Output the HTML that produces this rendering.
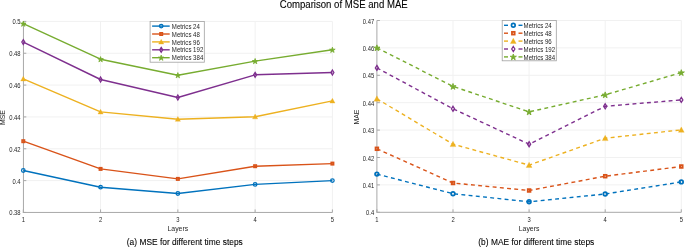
<!DOCTYPE html>
<html><head><meta charset="utf-8"><title>Comparison of MSE and MAE</title>
<style>html,body{margin:0;padding:0;background:#fff;width:685px;height:247px;overflow:hidden}svg{display:block;will-change:transform}</style>
</head><body>
<svg width="685" height="247" viewBox="0 0 685 247" font-family='"Liberation Sans", sans-serif'>
<rect width="685" height="247" fill="#fff"/>
<text transform="translate(343.70,7.75) scale(1,1.13)" font-size="9.6" text-anchor="middle" fill="#000" stroke="#000" stroke-width="0.08">Comparison of MSE and MAE</text>
<line x1="23.30" y1="180.61" x2="332.40" y2="180.61" stroke="#f1f1f1" stroke-width="1"/>
<line x1="23.30" y1="148.77" x2="332.40" y2="148.77" stroke="#f1f1f1" stroke-width="1"/>
<line x1="23.30" y1="116.92" x2="332.40" y2="116.92" stroke="#f1f1f1" stroke-width="1"/>
<line x1="23.30" y1="85.08" x2="332.40" y2="85.08" stroke="#f1f1f1" stroke-width="1"/>
<line x1="23.30" y1="53.24" x2="332.40" y2="53.24" stroke="#f1f1f1" stroke-width="1"/>
<line x1="23.30" y1="21.40" x2="332.40" y2="21.40" stroke="#f1f1f1" stroke-width="1"/>
<line x1="100.57" y1="21.40" x2="100.57" y2="212.45" stroke="#f1f1f1" stroke-width="1"/>
<line x1="177.85" y1="21.40" x2="177.85" y2="212.45" stroke="#f1f1f1" stroke-width="1"/>
<line x1="255.12" y1="21.40" x2="255.12" y2="212.45" stroke="#f1f1f1" stroke-width="1"/>
<line x1="332.40" y1="21.40" x2="332.40" y2="212.45" stroke="#f1f1f1" stroke-width="1"/>
<line x1="23.45" y1="21.40" x2="23.45" y2="212.45" stroke="#a8a8a8" stroke-width="1"/>
<line x1="22.80" y1="212.45" x2="332.40" y2="212.45" stroke="#a8a8a8" stroke-width="1"/>
<line x1="23.30" y1="212.45" x2="26.30" y2="212.45" stroke="#a8a8a8" stroke-width="1"/>
<line x1="23.30" y1="180.61" x2="26.30" y2="180.61" stroke="#a8a8a8" stroke-width="1"/>
<line x1="23.30" y1="148.77" x2="26.30" y2="148.77" stroke="#a8a8a8" stroke-width="1"/>
<line x1="23.30" y1="116.92" x2="26.30" y2="116.92" stroke="#a8a8a8" stroke-width="1"/>
<line x1="23.30" y1="85.08" x2="26.30" y2="85.08" stroke="#a8a8a8" stroke-width="1"/>
<line x1="23.30" y1="53.24" x2="26.30" y2="53.24" stroke="#a8a8a8" stroke-width="1"/>
<line x1="23.30" y1="21.40" x2="26.30" y2="21.40" stroke="#a8a8a8" stroke-width="1"/>
<line x1="23.30" y1="212.45" x2="23.30" y2="209.45" stroke="#a8a8a8" stroke-width="1"/>
<line x1="100.57" y1="212.45" x2="100.57" y2="209.45" stroke="#a8a8a8" stroke-width="1"/>
<line x1="177.85" y1="212.45" x2="177.85" y2="209.45" stroke="#a8a8a8" stroke-width="1"/>
<line x1="255.12" y1="212.45" x2="255.12" y2="209.45" stroke="#a8a8a8" stroke-width="1"/>
<line x1="332.40" y1="212.45" x2="332.40" y2="209.45" stroke="#a8a8a8" stroke-width="1"/>
<text transform="translate(20.60,215.46) scale(1,1.15)" font-size="5.85" text-anchor="end" fill="#262626">0.38</text>
<text transform="translate(20.60,183.62) scale(1,1.15)" font-size="5.85" text-anchor="end" fill="#262626">0.4</text>
<text transform="translate(20.60,151.78) scale(1,1.15)" font-size="5.85" text-anchor="end" fill="#262626">0.42</text>
<text transform="translate(20.60,119.93) scale(1,1.15)" font-size="5.85" text-anchor="end" fill="#262626">0.44</text>
<text transform="translate(20.60,88.09) scale(1,1.15)" font-size="5.85" text-anchor="end" fill="#262626">0.46</text>
<text transform="translate(20.60,56.25) scale(1,1.15)" font-size="5.85" text-anchor="end" fill="#262626">0.48</text>
<text transform="translate(20.60,24.41) scale(1,1.15)" font-size="5.85" text-anchor="end" fill="#262626">0.5</text>
<text transform="translate(23.30,221.80) scale(1,1.15)" font-size="5.85" text-anchor="middle" fill="#262626">1</text>
<text transform="translate(100.57,221.80) scale(1,1.15)" font-size="5.85" text-anchor="middle" fill="#262626">2</text>
<text transform="translate(177.85,221.80) scale(1,1.15)" font-size="5.85" text-anchor="middle" fill="#262626">3</text>
<text transform="translate(255.12,221.80) scale(1,1.15)" font-size="5.85" text-anchor="middle" fill="#262626">4</text>
<text transform="translate(332.40,221.80) scale(1,1.15)" font-size="5.85" text-anchor="middle" fill="#262626">5</text>
<text transform="translate(177.85,231.00) scale(1,1.12)" font-size="6.9" text-anchor="middle" fill="#262626">Layers</text>
<text transform="translate(5.00,117.52) rotate(-90) scale(1,1.12)" font-size="6.9" text-anchor="middle" fill="#262626">MSE</text>
<polyline points="23.30,170.50 100.57,187.20 177.85,193.50 255.12,184.40 332.40,180.60" fill="none" stroke="#0072BD" stroke-width="1.4" stroke-linejoin="round"/>
<circle cx="23.30" cy="170.50" r="1.79" fill="none" stroke="#0072BD" stroke-width="1.25"/>
<circle cx="100.57" cy="187.20" r="1.79" fill="none" stroke="#0072BD" stroke-width="1.25"/>
<circle cx="177.85" cy="193.50" r="1.79" fill="none" stroke="#0072BD" stroke-width="1.25"/>
<circle cx="255.12" cy="184.40" r="1.79" fill="none" stroke="#0072BD" stroke-width="1.25"/>
<circle cx="332.40" cy="180.60" r="1.79" fill="none" stroke="#0072BD" stroke-width="1.25"/>
<polyline points="23.30,141.20 100.57,168.90 177.85,178.90 255.12,166.20 332.40,163.60" fill="none" stroke="#D95319" stroke-width="1.4" stroke-linejoin="round"/>
<rect x="22.10" y="140.00" width="2.40" height="2.40" fill="none" stroke="#D95319" stroke-width="1.60"/>
<rect x="99.37" y="167.70" width="2.40" height="2.40" fill="none" stroke="#D95319" stroke-width="1.60"/>
<rect x="176.65" y="177.70" width="2.40" height="2.40" fill="none" stroke="#D95319" stroke-width="1.60"/>
<rect x="253.93" y="165.00" width="2.40" height="2.40" fill="none" stroke="#D95319" stroke-width="1.60"/>
<rect x="331.20" y="162.40" width="2.40" height="2.40" fill="none" stroke="#D95319" stroke-width="1.60"/>
<polyline points="23.30,78.80 100.57,111.90 177.85,119.20 255.12,116.70 332.40,100.90" fill="none" stroke="#EDB120" stroke-width="1.4" stroke-linejoin="round"/>
<polygon points="23.30,76.16 25.90,80.96 20.70,80.96" fill="#EDB120" stroke="#EDB120" stroke-width="0.3" stroke-linejoin="round"/>
<polygon points="100.57,109.26 103.17,114.06 97.97,114.06" fill="#EDB120" stroke="#EDB120" stroke-width="0.3" stroke-linejoin="round"/>
<polygon points="177.85,116.56 180.45,121.36 175.25,121.36" fill="#EDB120" stroke="#EDB120" stroke-width="0.3" stroke-linejoin="round"/>
<polygon points="255.12,114.06 257.73,118.86 252.53,118.86" fill="#EDB120" stroke="#EDB120" stroke-width="0.3" stroke-linejoin="round"/>
<polygon points="332.40,98.26 335.00,103.06 329.80,103.06" fill="#EDB120" stroke="#EDB120" stroke-width="0.3" stroke-linejoin="round"/>
<polyline points="23.30,42.10 100.57,79.50 177.85,97.50 255.12,74.80 332.40,72.50" fill="none" stroke="#7E2F8E" stroke-width="1.4" stroke-linejoin="round"/>
<polygon points="23.30,39.65 24.80,42.10 23.30,44.55 21.80,42.10" fill="none" stroke="#7E2F8E" stroke-width="1.25"/>
<polygon points="100.57,77.05 102.07,79.50 100.57,81.95 99.07,79.50" fill="none" stroke="#7E2F8E" stroke-width="1.25"/>
<polygon points="177.85,95.05 179.35,97.50 177.85,99.95 176.35,97.50" fill="none" stroke="#7E2F8E" stroke-width="1.25"/>
<polygon points="255.12,72.35 256.62,74.80 255.12,77.25 253.62,74.80" fill="none" stroke="#7E2F8E" stroke-width="1.25"/>
<polygon points="332.40,70.05 333.90,72.50 332.40,74.95 330.90,72.50" fill="none" stroke="#7E2F8E" stroke-width="1.25"/>
<polyline points="23.30,23.70 100.57,59.20 177.85,75.20 255.12,61.10 332.40,49.80" fill="none" stroke="#77AC30" stroke-width="1.4" stroke-linejoin="round"/>
<polygon points="23.30,21.10 23.95,23.10 26.06,23.10 24.35,24.34 25.00,26.35 23.30,25.11 21.60,26.35 22.25,24.34 20.54,23.10 22.65,23.10" fill="#77AC30" stroke="#77AC30" stroke-width="0.80"/>
<polygon points="100.57,56.60 101.23,58.60 103.33,58.60 101.63,59.84 102.28,61.85 100.57,60.61 98.87,61.85 99.52,59.84 97.82,58.60 99.92,58.60" fill="#77AC30" stroke="#77AC30" stroke-width="0.80"/>
<polygon points="177.85,72.60 178.50,74.60 180.61,74.60 178.90,75.84 179.55,77.85 177.85,76.61 176.15,77.85 176.80,75.84 175.09,74.60 177.20,74.60" fill="#77AC30" stroke="#77AC30" stroke-width="0.80"/>
<polygon points="255.12,58.50 255.78,60.50 257.88,60.50 256.18,61.74 256.83,63.75 255.12,62.51 253.42,63.75 254.07,61.74 252.37,60.50 254.47,60.50" fill="#77AC30" stroke="#77AC30" stroke-width="0.80"/>
<polygon points="332.40,47.20 333.05,49.20 335.16,49.20 333.45,50.44 334.10,52.45 332.40,51.21 330.70,52.45 331.35,50.44 329.64,49.20 331.75,49.20" fill="#77AC30" stroke="#77AC30" stroke-width="0.80"/>
<rect x="150.10" y="21.50" width="54.20" height="40.70" fill="#fff" stroke="#a0a0a0" stroke-width="0.8"/>
<line x1="152.10" y1="26.10" x2="169.70" y2="26.10" stroke="#0072BD" stroke-width="1.4"/>
<circle cx="161.20" cy="26.10" r="1.79" fill="none" stroke="#0072BD" stroke-width="1.25"/>
<text transform="translate(171.80,28.75) scale(1,1.12)" font-size="6.1" text-anchor="start" fill="#262626">Metrics 24</text>
<line x1="152.10" y1="34.00" x2="169.70" y2="34.00" stroke="#D95319" stroke-width="1.4"/>
<rect x="160.00" y="32.80" width="2.40" height="2.40" fill="none" stroke="#D95319" stroke-width="1.60"/>
<text transform="translate(171.80,36.65) scale(1,1.12)" font-size="6.1" text-anchor="start" fill="#262626">Metrics 48</text>
<line x1="152.10" y1="41.90" x2="169.70" y2="41.90" stroke="#EDB120" stroke-width="1.4"/>
<polygon points="161.20,39.26 163.80,44.06 158.60,44.06" fill="#EDB120" stroke="#EDB120" stroke-width="0.3" stroke-linejoin="round"/>
<text transform="translate(171.80,44.55) scale(1,1.12)" font-size="6.1" text-anchor="start" fill="#262626">Metrics 96</text>
<line x1="152.10" y1="49.80" x2="169.70" y2="49.80" stroke="#7E2F8E" stroke-width="1.4"/>
<polygon points="161.20,47.35 162.70,49.80 161.20,52.25 159.70,49.80" fill="none" stroke="#7E2F8E" stroke-width="1.25"/>
<text transform="translate(171.80,52.45) scale(1,1.12)" font-size="6.1" text-anchor="start" fill="#262626">Metrics 192</text>
<line x1="152.10" y1="57.70" x2="169.70" y2="57.70" stroke="#77AC30" stroke-width="1.4"/>
<polygon points="161.20,55.10 161.85,57.10 163.96,57.10 162.25,58.34 162.90,60.35 161.20,59.11 159.50,60.35 160.15,58.34 158.44,57.10 160.55,57.10" fill="#77AC30" stroke="#77AC30" stroke-width="0.80"/>
<text transform="translate(171.80,60.35) scale(1,1.12)" font-size="6.1" text-anchor="start" fill="#262626">Metrics 384</text>
<text transform="translate(184.80,244.70) scale(1,1.12)" font-size="8.4" text-anchor="middle" fill="#000" stroke="#000" stroke-width="0.08">(a) MSE for different time steps</text>
<line x1="376.90" y1="184.90" x2="681.30" y2="184.90" stroke="#f1f1f1" stroke-width="1"/>
<line x1="376.90" y1="157.50" x2="681.30" y2="157.50" stroke="#f1f1f1" stroke-width="1"/>
<line x1="376.90" y1="130.10" x2="681.30" y2="130.10" stroke="#f1f1f1" stroke-width="1"/>
<line x1="376.90" y1="102.70" x2="681.30" y2="102.70" stroke="#f1f1f1" stroke-width="1"/>
<line x1="376.90" y1="75.30" x2="681.30" y2="75.30" stroke="#f1f1f1" stroke-width="1"/>
<line x1="376.90" y1="47.90" x2="681.30" y2="47.90" stroke="#f1f1f1" stroke-width="1"/>
<line x1="376.90" y1="20.50" x2="681.30" y2="20.50" stroke="#f1f1f1" stroke-width="1"/>
<line x1="453.00" y1="20.50" x2="453.00" y2="212.30" stroke="#f1f1f1" stroke-width="1"/>
<line x1="529.10" y1="20.50" x2="529.10" y2="212.30" stroke="#f1f1f1" stroke-width="1"/>
<line x1="605.20" y1="20.50" x2="605.20" y2="212.30" stroke="#f1f1f1" stroke-width="1"/>
<line x1="681.30" y1="20.50" x2="681.30" y2="212.30" stroke="#f1f1f1" stroke-width="1"/>
<line x1="376.90" y1="20.50" x2="376.90" y2="212.30" stroke="#a8a8a8" stroke-width="1"/>
<line x1="376.40" y1="212.30" x2="681.30" y2="212.30" stroke="#a8a8a8" stroke-width="1"/>
<line x1="376.90" y1="212.30" x2="379.90" y2="212.30" stroke="#a8a8a8" stroke-width="1"/>
<line x1="376.90" y1="184.90" x2="379.90" y2="184.90" stroke="#a8a8a8" stroke-width="1"/>
<line x1="376.90" y1="157.50" x2="379.90" y2="157.50" stroke="#a8a8a8" stroke-width="1"/>
<line x1="376.90" y1="130.10" x2="379.90" y2="130.10" stroke="#a8a8a8" stroke-width="1"/>
<line x1="376.90" y1="102.70" x2="379.90" y2="102.70" stroke="#a8a8a8" stroke-width="1"/>
<line x1="376.90" y1="75.30" x2="379.90" y2="75.30" stroke="#a8a8a8" stroke-width="1"/>
<line x1="376.90" y1="47.90" x2="379.90" y2="47.90" stroke="#a8a8a8" stroke-width="1"/>
<line x1="376.90" y1="20.50" x2="379.90" y2="20.50" stroke="#a8a8a8" stroke-width="1"/>
<line x1="376.90" y1="212.30" x2="376.90" y2="209.30" stroke="#a8a8a8" stroke-width="1"/>
<line x1="453.00" y1="212.30" x2="453.00" y2="209.30" stroke="#a8a8a8" stroke-width="1"/>
<line x1="529.10" y1="212.30" x2="529.10" y2="209.30" stroke="#a8a8a8" stroke-width="1"/>
<line x1="605.20" y1="212.30" x2="605.20" y2="209.30" stroke="#a8a8a8" stroke-width="1"/>
<line x1="681.30" y1="212.30" x2="681.30" y2="209.30" stroke="#a8a8a8" stroke-width="1"/>
<text transform="translate(374.20,215.31) scale(1,1.15)" font-size="5.85" text-anchor="end" fill="#262626">0.4</text>
<text transform="translate(374.20,187.91) scale(1,1.15)" font-size="5.85" text-anchor="end" fill="#262626">0.41</text>
<text transform="translate(374.20,160.51) scale(1,1.15)" font-size="5.85" text-anchor="end" fill="#262626">0.42</text>
<text transform="translate(374.20,133.11) scale(1,1.15)" font-size="5.85" text-anchor="end" fill="#262626">0.43</text>
<text transform="translate(374.20,105.71) scale(1,1.15)" font-size="5.85" text-anchor="end" fill="#262626">0.44</text>
<text transform="translate(374.20,78.31) scale(1,1.15)" font-size="5.85" text-anchor="end" fill="#262626">0.45</text>
<text transform="translate(374.20,50.91) scale(1,1.15)" font-size="5.85" text-anchor="end" fill="#262626">0.46</text>
<text transform="translate(374.20,23.51) scale(1,1.15)" font-size="5.85" text-anchor="end" fill="#262626">0.47</text>
<text transform="translate(376.90,221.80) scale(1,1.15)" font-size="5.85" text-anchor="middle" fill="#262626">1</text>
<text transform="translate(453.00,221.80) scale(1,1.15)" font-size="5.85" text-anchor="middle" fill="#262626">2</text>
<text transform="translate(529.10,221.80) scale(1,1.15)" font-size="5.85" text-anchor="middle" fill="#262626">3</text>
<text transform="translate(605.20,221.80) scale(1,1.15)" font-size="5.85" text-anchor="middle" fill="#262626">4</text>
<text transform="translate(681.30,221.80) scale(1,1.15)" font-size="5.85" text-anchor="middle" fill="#262626">5</text>
<text transform="translate(529.10,231.00) scale(1,1.12)" font-size="6.9" text-anchor="middle" fill="#262626">Layers</text>
<text transform="translate(358.60,117.00) rotate(-90) scale(1,1.12)" font-size="6.9" text-anchor="middle" fill="#262626">MAE</text>
<polyline points="376.90,174.10 453.00,193.70 529.10,201.80 605.20,194.00 681.30,181.90" fill="none" stroke="#0072BD" stroke-width="1.4" stroke-dasharray="3.9 3.35" stroke-linejoin="round"/>
<circle cx="376.90" cy="174.10" r="1.85" fill="none" stroke="#0072BD" stroke-width="1.73"/>
<circle cx="453.00" cy="193.70" r="1.85" fill="none" stroke="#0072BD" stroke-width="1.73"/>
<circle cx="529.10" cy="201.80" r="1.85" fill="none" stroke="#0072BD" stroke-width="1.73"/>
<circle cx="605.20" cy="194.00" r="1.85" fill="none" stroke="#0072BD" stroke-width="1.73"/>
<circle cx="681.30" cy="181.90" r="1.85" fill="none" stroke="#0072BD" stroke-width="1.73"/>
<polyline points="376.90,148.80 453.00,183.00 529.10,190.50 605.20,176.20 681.30,166.50" fill="none" stroke="#D95319" stroke-width="1.4" stroke-dasharray="3.9 3.35" stroke-linejoin="round"/>
<rect x="375.56" y="147.46" width="2.69" height="2.69" fill="none" stroke="#D95319" stroke-width="1.79"/>
<rect x="451.66" y="181.66" width="2.69" height="2.69" fill="none" stroke="#D95319" stroke-width="1.79"/>
<rect x="527.76" y="189.16" width="2.69" height="2.69" fill="none" stroke="#D95319" stroke-width="1.79"/>
<rect x="603.86" y="174.86" width="2.69" height="2.69" fill="none" stroke="#D95319" stroke-width="1.79"/>
<rect x="679.96" y="165.16" width="2.69" height="2.69" fill="none" stroke="#D95319" stroke-width="1.79"/>
<polyline points="376.90,98.80 453.00,144.20 529.10,165.10 605.20,138.20 681.30,129.90" fill="none" stroke="#EDB120" stroke-width="1.4" stroke-dasharray="3.9 3.35" stroke-linejoin="round"/>
<polygon points="376.90,95.84 379.81,101.22 373.99,101.22" fill="#EDB120" stroke="#EDB120" stroke-width="0.3" stroke-linejoin="round"/>
<polygon points="453.00,141.24 455.91,146.62 450.09,146.62" fill="#EDB120" stroke="#EDB120" stroke-width="0.3" stroke-linejoin="round"/>
<polygon points="529.10,162.14 532.01,167.52 526.19,167.52" fill="#EDB120" stroke="#EDB120" stroke-width="0.3" stroke-linejoin="round"/>
<polygon points="605.20,135.24 608.11,140.62 602.29,140.62" fill="#EDB120" stroke="#EDB120" stroke-width="0.3" stroke-linejoin="round"/>
<polygon points="681.30,126.94 684.21,132.32 678.39,132.32" fill="#EDB120" stroke="#EDB120" stroke-width="0.3" stroke-linejoin="round"/>
<polyline points="376.90,67.90 453.00,108.80 529.10,144.20 605.20,106.30 681.30,99.90" fill="none" stroke="#7E2F8E" stroke-width="1.4" stroke-dasharray="3.9 3.35" stroke-linejoin="round"/>
<polygon points="376.90,65.36 378.49,67.90 376.90,70.44 375.31,67.90" fill="none" stroke="#7E2F8E" stroke-width="1.25"/>
<polygon points="453.00,106.26 454.59,108.80 453.00,111.34 451.41,108.80" fill="none" stroke="#7E2F8E" stroke-width="1.25"/>
<polygon points="529.10,141.66 530.69,144.20 529.10,146.74 527.51,144.20" fill="none" stroke="#7E2F8E" stroke-width="1.25"/>
<polygon points="605.20,103.76 606.79,106.30 605.20,108.84 603.61,106.30" fill="none" stroke="#7E2F8E" stroke-width="1.25"/>
<polygon points="681.30,97.36 682.89,99.90 681.30,102.44 679.71,99.90" fill="none" stroke="#7E2F8E" stroke-width="1.25"/>
<polyline points="376.90,47.80 453.00,86.40 529.10,111.90 605.20,94.80 681.30,72.60" fill="none" stroke="#77AC30" stroke-width="1.4" stroke-dasharray="3.9 3.35" stroke-linejoin="round"/>
<polygon points="376.90,44.89 377.63,47.13 379.99,47.13 378.08,48.52 378.81,50.76 376.90,49.38 374.99,50.76 375.72,48.52 373.81,47.13 376.17,47.13" fill="#77AC30" stroke="#77AC30" stroke-width="0.90"/>
<polygon points="453.00,83.49 453.73,85.73 456.09,85.73 454.18,87.12 454.91,89.36 453.00,87.98 451.09,89.36 451.82,87.12 449.91,85.73 452.27,85.73" fill="#77AC30" stroke="#77AC30" stroke-width="0.90"/>
<polygon points="529.10,108.99 529.83,111.23 532.19,111.23 530.28,112.62 531.01,114.86 529.10,113.48 527.19,114.86 527.92,112.62 526.01,111.23 528.37,111.23" fill="#77AC30" stroke="#77AC30" stroke-width="0.90"/>
<polygon points="605.20,91.89 605.93,94.13 608.29,94.13 606.38,95.52 607.11,97.76 605.20,96.38 603.29,97.76 604.02,95.52 602.11,94.13 604.47,94.13" fill="#77AC30" stroke="#77AC30" stroke-width="0.90"/>
<polygon points="681.30,69.69 682.03,71.93 684.39,71.93 682.48,73.32 683.21,75.56 681.30,74.18 679.39,75.56 680.12,73.32 678.21,71.93 680.57,71.93" fill="#77AC30" stroke="#77AC30" stroke-width="0.90"/>
<rect x="502.20" y="20.50" width="54.10" height="40.30" fill="#fff" stroke="#a0a0a0" stroke-width="0.8"/>
<line x1="504.00" y1="25.30" x2="508.00" y2="25.30" stroke="#0072BD" stroke-width="1.4"/>
<line x1="518.50" y1="25.30" x2="522.50" y2="25.30" stroke="#0072BD" stroke-width="1.4"/>
<circle cx="513.30" cy="25.30" r="1.85" fill="none" stroke="#0072BD" stroke-width="1.73"/>
<text transform="translate(523.60,27.95) scale(1,1.12)" font-size="6.1" text-anchor="start" fill="#262626">Metrics 24</text>
<line x1="504.00" y1="33.20" x2="508.00" y2="33.20" stroke="#D95319" stroke-width="1.4"/>
<line x1="518.50" y1="33.20" x2="522.50" y2="33.20" stroke="#D95319" stroke-width="1.4"/>
<rect x="511.96" y="31.86" width="2.69" height="2.69" fill="none" stroke="#D95319" stroke-width="1.79"/>
<text transform="translate(523.60,35.85) scale(1,1.12)" font-size="6.1" text-anchor="start" fill="#262626">Metrics 48</text>
<line x1="504.00" y1="41.10" x2="508.00" y2="41.10" stroke="#EDB120" stroke-width="1.4"/>
<line x1="518.50" y1="41.10" x2="522.50" y2="41.10" stroke="#EDB120" stroke-width="1.4"/>
<polygon points="513.30,38.14 516.21,43.52 510.39,43.52" fill="#EDB120" stroke="#EDB120" stroke-width="0.3" stroke-linejoin="round"/>
<text transform="translate(523.60,43.75) scale(1,1.12)" font-size="6.1" text-anchor="start" fill="#262626">Metrics 96</text>
<line x1="504.00" y1="49.00" x2="508.00" y2="49.00" stroke="#7E2F8E" stroke-width="1.4"/>
<line x1="518.50" y1="49.00" x2="522.50" y2="49.00" stroke="#7E2F8E" stroke-width="1.4"/>
<polygon points="513.30,46.46 514.89,49.00 513.30,51.54 511.71,49.00" fill="none" stroke="#7E2F8E" stroke-width="1.25"/>
<text transform="translate(523.60,51.65) scale(1,1.12)" font-size="6.1" text-anchor="start" fill="#262626">Metrics 192</text>
<line x1="504.00" y1="56.90" x2="508.00" y2="56.90" stroke="#77AC30" stroke-width="1.4"/>
<line x1="518.50" y1="56.90" x2="522.50" y2="56.90" stroke="#77AC30" stroke-width="1.4"/>
<polygon points="513.30,53.99 514.03,56.23 516.39,56.23 514.48,57.62 515.21,59.86 513.30,58.48 511.39,59.86 512.12,57.62 510.21,56.23 512.57,56.23" fill="#77AC30" stroke="#77AC30" stroke-width="0.90"/>
<text transform="translate(523.60,59.55) scale(1,1.12)" font-size="6.1" text-anchor="start" fill="#262626">Metrics 384</text>
<text transform="translate(536.30,244.70) scale(1,1.12)" font-size="8.4" text-anchor="middle" fill="#000" stroke="#000" stroke-width="0.08">(b) MAE for different time steps</text>
</svg>
</body></html>
